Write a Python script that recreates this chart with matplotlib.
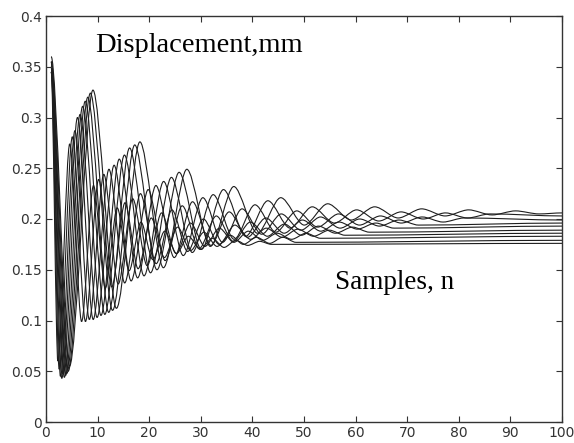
import matplotlib
matplotlib.use('Agg')
import matplotlib.pyplot as plt
from matplotlib.path import Path
from matplotlib.patches import PathPatch

# extremum positions (sample index) and values, one list per curve
n0 = [1, 2.3, 4.6, 6.9, 9.2, 11.5, 13.8, 16.1, 18.4, 20.7, 23.0, 25.3, 27.6, 29.9, 32.2, 34.5, 36.8, 39.1, 41.4, 43.7, 100]
y0 = [0.345, 0.060, 0.274, 0.099, 0.233, 0.132, 0.211, 0.149, 0.197, 0.160, 0.188, 0.166, 0.183, 0.170, 0.181, 0.172, 0.179, 0.174, 0.178, 0.175, 0.176]

n1 = [1, 2.55, 5.1, 7.65, 10.2, 12.75, 15.3, 17.85, 20.4, 22.95, 25.5, 28.05, 30.6, 33.15, 35.7, 38.25, 40.8, 43.35, 45.9, 48.45, 100]
y1 = [0.350, 0.052, 0.281, 0.099, 0.239, 0.133, 0.216, 0.151, 0.201, 0.162, 0.192, 0.169, 0.187, 0.173, 0.184, 0.175, 0.182, 0.176, 0.182, 0.177, 0.179]

n2 = [1, 2.8, 5.6, 8.4, 11.2, 14.0, 16.8, 19.6, 22.4, 25.2, 28.0, 30.8, 33.6, 36.4, 39.2, 42.0, 44.8, 47.6, 50.4, 53.2, 100]
y2 = [0.355, 0.045, 0.287, 0.101, 0.244, 0.136, 0.220, 0.154, 0.206, 0.166, 0.196, 0.173, 0.191, 0.177, 0.188, 0.179, 0.186, 0.180, 0.186, 0.181, 0.183]

n3 = [1, 3.05, 6.1, 9.15, 12.2, 15.25, 18.3, 21.35, 24.4, 27.45, 30.5, 33.55, 36.6, 39.65, 42.7, 45.75, 48.8, 51.85, 54.9, 57.95, 100]
y3 = [0.345, 0.043, 0.300, 0.101, 0.249, 0.137, 0.225, 0.156, 0.209, 0.168, 0.200, 0.175, 0.194, 0.180, 0.191, 0.182, 0.190, 0.183, 0.189, 0.184, 0.186]

n4 = [1, 3.3, 6.6, 9.9, 13.2, 16.5, 19.8, 23.1, 26.4, 29.7, 33.0, 36.3, 39.6, 42.9, 46.2, 49.5, 52.8, 56.1, 59.4, 62.7, 100]
y4 = [0.350, 0.047, 0.303, 0.103, 0.253, 0.139, 0.229, 0.159, 0.213, 0.171, 0.203, 0.178, 0.197, 0.183, 0.195, 0.184, 0.193, 0.186, 0.192, 0.187, 0.189]

n5 = [1, 3.55, 7.1, 10.65, 14.2, 17.75, 21.3, 24.85, 28.4, 31.95, 35.5, 39.05, 42.6, 46.15, 49.7, 53.25, 56.8, 60.35, 63.9, 67.45, 100]
y5 = [0.355, 0.044, 0.311, 0.105, 0.259, 0.142, 0.233, 0.162, 0.217, 0.174, 0.207, 0.182, 0.201, 0.186, 0.199, 0.188, 0.197, 0.190, 0.196, 0.191, 0.193]

n6 = [1, 3.8, 7.6, 11.4, 15.2, 19.0, 22.8, 26.6, 30.4, 34.2, 38.0, 41.8, 45.6, 49.4, 53.2, 57.0, 60.8, 64.6, 68.4, 72.2, 100]
y6 = [0.345, 0.046, 0.316, 0.106, 0.263, 0.144, 0.237, 0.164, 0.221, 0.177, 0.210, 0.185, 0.205, 0.189, 0.202, 0.191, 0.200, 0.193, 0.199, 0.194, 0.196]

n7 = [1, 4.05, 8.1, 12.15, 16.2, 20.25, 24.3, 28.35, 32.4, 36.45, 40.5, 44.55, 48.6, 52.65, 56.7, 60.75, 64.8, 68.85, 72.9, 76.95, 81.0, 100]
y7 = [0.350, 0.048, 0.320, 0.108, 0.270, 0.147, 0.241, 0.167, 0.224, 0.180, 0.214, 0.187, 0.208, 0.192, 0.205, 0.194, 0.203, 0.196, 0.202, 0.197, 0.201, 0.199]

n8 = [1, 4.3, 8.6, 12.9, 17.2, 21.5, 25.8, 30.1, 34.4, 38.7, 43.0, 47.3, 51.6, 55.9, 60.2, 64.5, 68.8, 73.1, 77.4, 81.7, 86.0, 100]
y8 = [0.355, 0.050, 0.324, 0.110, 0.273, 0.150, 0.246, 0.170, 0.229, 0.183, 0.218, 0.191, 0.212, 0.196, 0.209, 0.198, 0.207, 0.200, 0.206, 0.201, 0.205, 0.203]

n9 = [1, 4.55, 9.1, 13.65, 18.2, 22.75, 27.3, 31.85, 36.4, 40.95, 45.5, 50.05, 54.6, 59.15, 63.7, 68.25, 72.8, 77.35, 81.9, 86.45, 91.0, 95.55, 100]
y9 = [0.360, 0.055, 0.327, 0.112, 0.276, 0.152, 0.249, 0.173, 0.232, 0.186, 0.221, 0.194, 0.215, 0.199, 0.212, 0.201, 0.210, 0.203, 0.209, 0.204, 0.208, 0.205, 0.206]

curves = [(n0, y0), (n1, y1), (n2, y2), (n3, y3), (n4, y4),
          (n5, y5), (n6, y6), (n7, y7), (n8, y8), (n9, y9)]

xticks = list(range(0, 101, 10))
yticks = [0, 0.05, 0.1, 0.15, 0.2, 0.25, 0.3, 0.35, 0.4]
yticklabels = ['0', '0.05', '0.1', '0.15', '0.2', '0.25', '0.3', '0.35', '0.4']


def swing_path(n, y, a=0.3):
    # bezier from one extremum to the next, flat at each turning point
    verts = [(n[0], y[0])]
    codes = [Path.MOVETO]
    for i in range(len(n) - 1):
        dx = n[i + 1] - n[i]
        verts += [(n[i] + a * dx, y[i]), (n[i + 1] - a * dx, y[i + 1]),
                  (n[i + 1], y[i + 1])]
        codes += [Path.CURVE4] * 3
    return Path(verts, codes)


def main():
    fig = plt.figure(figsize=(5.74, 4.43), dpi=100)
    ax = fig.add_axes([46 / 574, 21 / 443, 516 / 574, 406 / 443])

    for n, y in curves:
        ax.add_patch(PathPatch(swing_path(n, y), fill=False,
                               edgecolor='#1e1e1e', lw=0.8))

    ax.set_xlim(0, 100)
    ax.set_ylim(0, 0.4)
    ax.set_xticks(xticks)
    ax.set_yticks(yticks)
    ax.set_yticklabels(yticklabels)
    ax.tick_params(direction='in', length=4, width=0.8, top=True, right=True,
                   labelsize=10, labelcolor='#333333', color='#333333', pad=3)
    for s in ax.spines.values():
        s.set_color('#333333')
        s.set_linewidth(1.0)

    ax.text(9.5, 0.3645, 'Displacement,mm', family='Liberation Serif',
            fontsize=20.5, va='baseline')
    ax.text(56, 0.131, 'Samples, n', family='Liberation Serif',
            fontsize=19.5, va='baseline')

    fig.savefig('out.png', dpi=100)


if __name__ == '__main__':
    main()
